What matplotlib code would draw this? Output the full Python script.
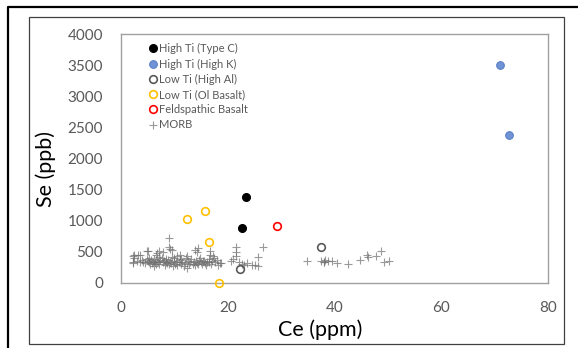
import matplotlib
matplotlib.use("Agg")
import matplotlib.pyplot as plt
from matplotlib.lines import Line2D
from matplotlib.patches import Rectangle

plt.rcParams["font.family"] = ["Lato", "DejaVu Sans"]

# data
high_ti_c_ce = [23.5, 22.6]
high_ti_c_se = [1376, 878]
high_ti_k_ce = [71.0, 72.7]
high_ti_k_se = [3508, 2372]
low_ti_al_ce = [37.4, 22.3]
low_ti_al_se = [573, 225]
low_ti_ol_ce = [12.3, 15.8, 16.55, 18.3]
low_ti_ol_se = [1023, 1162, 659, 0]
feld_ce = [29.2]
feld_se = [916]

morb_ce = [8.9, 9.0, 9.2, 9.5, 14.5, 14.3, 16.7, 16.6, 2.4, 2.2, 3.5, 4.8, 5.0,
           6.6, 7.1, 6.7, 7.8, 11.0, 12.3, 13.9, 17.3, 17.5, 10.4, 3.2, 2.5,
           2.3, 2.2, 3.0, 3.6, 4.0, 4.2, 4.5, 4.8, 5.0, 5.3, 5.5, 5.7, 5.9, 6.0,
           6.2, 6.4, 6.6, 6.8, 7.0, 7.2, 7.4, 7.6, 7.8, 8.0, 8.2, 8.4, 8.6, 8.8,
           9.0, 9.2, 9.4, 9.7, 9.9, 10.1, 10.3, 10.5, 10.8, 11.0, 11.2, 11.5,
           11.8, 12.0, 12.3, 12.5, 12.7, 13.0, 13.2, 13.4, 13.6, 13.8, 14.0,
           14.2, 14.5, 14.7, 15.0, 15.2, 15.4, 15.6, 15.8, 16.0, 16.2, 16.5,
           16.8, 17.0, 17.7, 17.9, 18.5, 18.7, 18.2, 5.2, 6.1, 8.5, 10.0, 11.3,
           12.1, 14.8, 16.4, 7.2, 9.6,
           21.5, 21.5, 21.5, 20.6, 22.7, 23.7, 24.6, 25.6, 25.6, 26.6, 25.1,
           23.0, 22.2, 21.0,
           34.8, 37.4, 38.0, 38.3, 38.8, 39.5, 40.5, 42.6, 44.7, 46.0, 46.3,
           47.8, 48.8, 49.2, 50.3, 38.0]
morb_se = [718, 583, 546, 530, 557, 504, 450, 509, 450, 428, 444, 509, 514,
           455, 509, 477, 503, 450, 439, 535, 428, 402, 439, 450, 396,
           342, 321, 360, 330, 370, 345, 320, 380, 350, 330, 300, 365, 321, 345,
           390, 330, 310, 360, 340, 300, 375, 402, 330, 355, 290, 345, 320, 370,
           300, 340, 325, 268, 355, 310, 340, 290, 330, 365, 300, 345,
           268, 320, 241, 350, 300, 330, 380, 310, 345, 290, 360,
           325, 300, 370, 340, 310, 355, 359, 320, 290, 345, 330,
           300, 360, 342, 369, 316, 321, 290, 395, 280, 390, 395, 385,
           400, 395, 380, 410, 420,
           573, 498, 428, 359, 305, 321, 294, 412, 268, 573, 284,
           284, 330, 380,
           348, 348, 340, 365, 348, 359, 321, 305, 375, 455, 412,
           439, 509, 337, 348, 330]

W, H = 578, 348
fig = plt.figure(figsize=(W / 100, H / 100), dpi=100)
ax = fig.add_axes([121 / W, 1 - 283 / H, 427 / W, 249 / H])

ms = 5.5
ax.plot(morb_ce, morb_se, "+", color="#707070", alpha=0.7, ms=6, mew=0.8,
        ls="none", label="MORB", zorder=2)
ax.plot(high_ti_c_ce, high_ti_c_se, "o", color="black", ms=ms, ls="none",
        label="High Ti (Type C)", zorder=3)
ax.plot(high_ti_k_ce, high_ti_k_se, "o", mfc="#6f93d5", mec="#5a80c8", ms=ms,
        mew=0.8, ls="none", label="High Ti (High K)", zorder=3)
ax.plot(low_ti_al_ce, low_ti_al_se, "o", mfc="none", mec="#595959", ms=ms,
        mew=1.2, ls="none", label="Low Ti (High Al)", zorder=3)
ax.plot(low_ti_ol_ce, low_ti_ol_se, "o", mfc="none", mec="#ffc000", ms=ms,
        mew=1.2, ls="none", label="Low Ti (Ol Basalt)", zorder=3, clip_on=False)
ax.plot(feld_ce, feld_se, "o", mfc="none", mec="#ff0000", ms=ms,
        mew=1.2, ls="none", label="Feldspathic Basalt", zorder=3)

ax.set_xlim(0, 80)
ax.set_ylim(0, 4000)
ax.set_xticks([0, 20, 40, 60, 80])
ax.set_yticks(range(0, 4001, 500))
ax.tick_params(length=0, pad=13, labelsize=11, labelcolor="#595959")
for s in ax.spines.values():
    s.set_color("#a0a0a0")
    s.set_linewidth(1.0)

ax.set_xlabel("Ce (ppm)", fontsize=15.5)
ax.set_ylabel("Se (ppb)", fontsize=15.5)
ax.xaxis.set_label_coords(0.466, -0.148)
ax.yaxis.set_label_coords(-0.152, 0.458)

handles, labels = ax.get_legend_handles_labels()
order = [1, 2, 3, 4, 5, 0]
leg = ax.legend([handles[i] for i in order], [labels[i] for i in order],
                loc="upper left", bbox_to_anchor=(0.066, 0.963), frameon=False,
                fontsize=8, handlelength=0.6, handletextpad=0.25,
                borderpad=0, borderaxespad=0, labelspacing=0.38)
for t in leg.get_texts():
    t.set_color("#595959")

# chart area border and outer frame
fig.patches.append(Rectangle((29 / W, 1 - 344 / H), 535 / W, 327 / H,
                             transform=fig.transFigure, fill=False,
                             ec="#404040", lw=0.9))
fig.lines.append(Line2D([8 / W, 8 / W, 1.0], [0, 1 - 7 / H, 1 - 7 / H],
                        transform=fig.transFigure, color="black", lw=1.6))

fig.savefig("out.png", dpi=100)
